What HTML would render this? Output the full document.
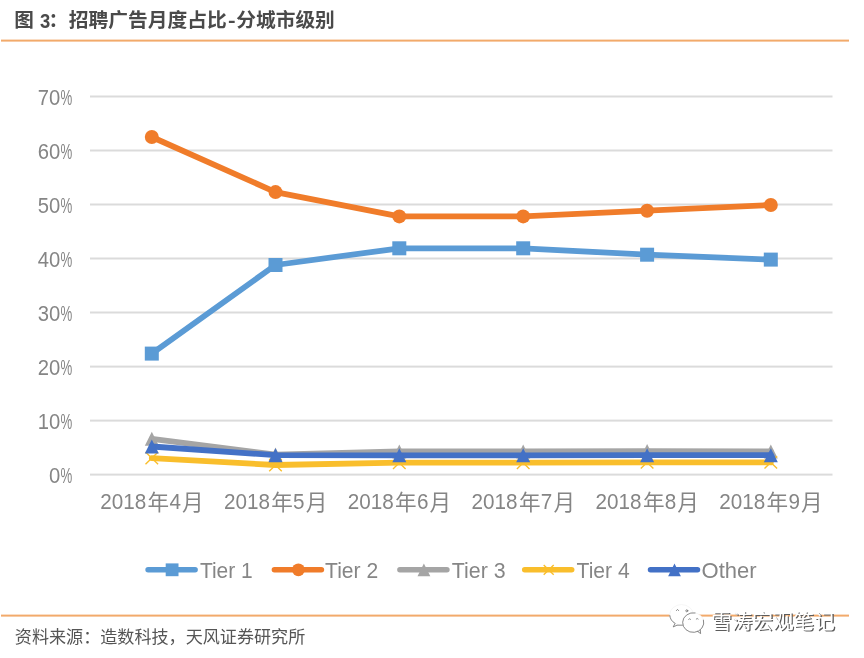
<!DOCTYPE html>
<html lang="zh"><head><meta charset="utf-8"><title>图 3：招聘广告月度占比-分城市级别</title>
<style>html,body{margin:0;padding:0;background:#fff}body{width:864px;height:658px;overflow:hidden;font-family:"Liberation Sans",sans-serif}svg{display:block;will-change:transform}text{font-family:"Liberation Sans","Noto Sans CJK SC",sans-serif}</style>
</head><body>
<svg width="864" height="658" viewBox="0 0 864 658">
<rect width="864" height="658" fill="#fff"/>
<g aria-label="图 3：招聘广告月度占比-分城市级别">
<text x="14.2" y="27.2" font-size="19.6" font-weight="bold" fill="#4a4a4a">图</text>
<text font-size="20.5" font-weight="bold" fill="#4a4a4a" transform="translate(39.9 27.8) scale(.9 1)">3</text>
<text x="48.5" y="27.2" font-size="19.6" font-weight="bold" fill="#4a4a4a">：</text>
<text x="68.8" y="27.2" font-size="19.6" font-weight="bold" fill="#4a4a4a" textLength="158" lengthAdjust="spacingAndGlyphs">招聘广告月度占比</text>
<text font-size="19" font-weight="bold" fill="#4a4a4a" transform="translate(228 27.2) scale(1.2 1)">-</text>
<text x="236.3" y="27.2" font-size="19.6" font-weight="bold" fill="#4a4a4a" textLength="98.5" lengthAdjust="spacingAndGlyphs">分城市级别</text>
</g>
<rect x="1" y="39.6" width="848" height="2" fill="#f2aa6b"/>
<rect x="1" y="614.6" width="848" height="2" fill="#f2aa6b"/>
<rect x="90.0" y="473.6" width="742.5" height="2" fill="#dbdbdb"/>
<rect x="90.0" y="419.6" width="742.5" height="2" fill="#dbdbdb"/>
<rect x="90.0" y="365.6" width="742.5" height="2" fill="#dbdbdb"/>
<rect x="90.0" y="311.5" width="742.5" height="2" fill="#dbdbdb"/>
<rect x="90.0" y="257.5" width="742.5" height="2" fill="#dbdbdb"/>
<rect x="90.0" y="203.5" width="742.5" height="2" fill="#dbdbdb"/>
<rect x="90.0" y="149.5" width="742.5" height="2" fill="#dbdbdb"/>
<rect x="90.0" y="95.5" width="742.5" height="2" fill="#dbdbdb"/>
<text x="60.2" y="482.9" font-size="22" text-anchor="end" fill="#858585" transform="translate(60.2 0) scale(.92 1) translate(-60.2 0)">0</text>
<text font-size="22" fill="#858585" transform="translate(60.4 482.9) scale(.6 1)">%</text>
<text x="60.2" y="428.9" font-size="22" text-anchor="end" fill="#858585" transform="translate(60.2 0) scale(.92 1) translate(-60.2 0)">10</text>
<text font-size="22" fill="#858585" transform="translate(60.4 428.9) scale(.6 1)">%</text>
<text x="60.2" y="374.9" font-size="22" text-anchor="end" fill="#858585" transform="translate(60.2 0) scale(.92 1) translate(-60.2 0)">20</text>
<text font-size="22" fill="#858585" transform="translate(60.4 374.9) scale(.6 1)">%</text>
<text x="60.2" y="320.8" font-size="22" text-anchor="end" fill="#858585" transform="translate(60.2 0) scale(.92 1) translate(-60.2 0)">30</text>
<text font-size="22" fill="#858585" transform="translate(60.4 320.8) scale(.6 1)">%</text>
<text x="60.2" y="266.8" font-size="22" text-anchor="end" fill="#858585" transform="translate(60.2 0) scale(.92 1) translate(-60.2 0)">40</text>
<text font-size="22" fill="#858585" transform="translate(60.4 266.8) scale(.6 1)">%</text>
<text x="60.2" y="212.8" font-size="22" text-anchor="end" fill="#858585" transform="translate(60.2 0) scale(.92 1) translate(-60.2 0)">50</text>
<text font-size="22" fill="#858585" transform="translate(60.4 212.8) scale(.6 1)">%</text>
<text x="60.2" y="158.8" font-size="22" text-anchor="end" fill="#858585" transform="translate(60.2 0) scale(.92 1) translate(-60.2 0)">60</text>
<text font-size="22" fill="#858585" transform="translate(60.4 158.8) scale(.6 1)">%</text>
<text x="60.2" y="104.8" font-size="22" text-anchor="end" fill="#858585" transform="translate(60.2 0) scale(.92 1) translate(-60.2 0)">70</text>
<text font-size="22" fill="#858585" transform="translate(60.4 104.8) scale(.6 1)">%</text>
<polyline points="151.8,353.6 275.5,265.0 399.3,248.3 523.2,248.3 647.1,254.7 770.8,259.6" fill="none" stroke="#5b9bd5" stroke-width="5.8" stroke-linejoin="round" stroke-linecap="round"/>
<rect x="144.8" y="346.6" width="14.0" height="14.0" fill="#5b9bd5"/>
<rect x="268.5" y="258.0" width="14.0" height="14.0" fill="#5b9bd5"/>
<rect x="392.3" y="241.3" width="14.0" height="14.0" fill="#5b9bd5"/>
<rect x="516.2" y="241.3" width="14.0" height="14.0" fill="#5b9bd5"/>
<rect x="640.1" y="247.7" width="14.0" height="14.0" fill="#5b9bd5"/>
<rect x="763.8" y="252.6" width="14.0" height="14.0" fill="#5b9bd5"/>
<polyline points="151.8,137.0 275.5,192.1 399.3,216.4 523.2,216.4 647.1,210.7 770.8,205.0" fill="none" stroke="#f07c2a" stroke-width="5.8" stroke-linejoin="round" stroke-linecap="round"/>
<circle cx="151.8" cy="137.0" r="7.0" fill="#f07c2a"/>
<circle cx="275.5" cy="192.1" r="7.0" fill="#f07c2a"/>
<circle cx="399.3" cy="216.4" r="7.0" fill="#f07c2a"/>
<circle cx="523.2" cy="216.4" r="7.0" fill="#f07c2a"/>
<circle cx="647.1" cy="210.7" r="7.0" fill="#f07c2a"/>
<circle cx="770.8" cy="205.0" r="7.0" fill="#f07c2a"/>
<polyline points="151.8,438.8 275.5,454.6 399.3,451.4 523.2,451.4 647.1,451.1 770.8,451.4" fill="none" stroke="#a5a5a5" stroke-width="5.8" stroke-linejoin="round" stroke-linecap="round"/>
<path d="M151.8 431.8L158.8 445.8H144.8Z" fill="#a5a5a5"/>
<path d="M275.5 447.6L282.5 461.6H268.5Z" fill="#a5a5a5"/>
<path d="M399.3 444.4L406.3 458.4H392.3Z" fill="#a5a5a5"/>
<path d="M523.2 444.4L530.2 458.4H516.2Z" fill="#a5a5a5"/>
<path d="M647.1 444.1L654.1 458.1H640.1Z" fill="#a5a5a5"/>
<path d="M770.8 444.4L777.8 458.4H763.8Z" fill="#a5a5a5"/>
<polyline points="151.8,458.1 275.5,465.0 399.3,462.7 523.2,462.7 647.1,462.4 770.8,462.4" fill="none" stroke="#f9be2c" stroke-width="5.8" stroke-linejoin="round" stroke-linecap="round"/>
<path d="M145.5 452.0L158.1 464.3M158.1 452.0L145.5 464.3" stroke="#f9be2c" stroke-width="1.4" fill="none"/>
<path d="M269.2 458.9L281.8 471.2M281.8 458.9L269.2 471.2" stroke="#f9be2c" stroke-width="1.4" fill="none"/>
<path d="M393.0 456.6L405.6 468.9M405.6 456.6L393.0 468.9" stroke="#f9be2c" stroke-width="1.4" fill="none"/>
<path d="M516.9 456.6L529.5 468.9M529.5 456.6L516.9 468.9" stroke="#f9be2c" stroke-width="1.4" fill="none"/>
<path d="M640.8 456.3L653.4 468.6M653.4 456.3L640.8 468.6" stroke="#f9be2c" stroke-width="1.4" fill="none"/>
<path d="M764.5 456.3L777.1 468.6M777.1 456.3L764.5 468.6" stroke="#f9be2c" stroke-width="1.4" fill="none"/>
<polyline points="151.8,446.5 275.5,455.2 399.3,455.3 523.2,455.3 647.1,455.2 770.8,455.2" fill="none" stroke="#4371c6" stroke-width="5.8" stroke-linejoin="round" stroke-linecap="round"/>
<path d="M151.8 439.5L158.8 453.5H144.8Z" fill="#4371c6"/>
<path d="M275.5 448.2L282.5 462.2H268.5Z" fill="#4371c6"/>
<path d="M399.3 448.3L406.3 462.3H392.3Z" fill="#4371c6"/>
<path d="M523.2 448.3L530.2 462.3H516.2Z" fill="#4371c6"/>
<path d="M647.1 448.2L654.1 462.2H640.1Z" fill="#4371c6"/>
<path d="M770.8 448.2L777.8 462.2H763.8Z" fill="#4371c6"/>
<g aria-label="2018年4月">
<text font-size="22" fill="#858585" transform="translate(100.2 509.0) scale(.94 1)">2018</text>
<text x="147.6" y="509.8" font-size="21.6" fill="#858585">年</text>
<text font-size="22" fill="#858585" transform="translate(169.4 509.0) scale(.94 1)">4</text>
<text x="182.0" y="509.8" font-size="21.6" fill="#858585">月</text>
</g>
<g aria-label="2018年5月">
<text font-size="22" fill="#858585" transform="translate(223.9 509.0) scale(.94 1)">2018</text>
<text x="271.3" y="509.8" font-size="21.6" fill="#858585">年</text>
<text font-size="22" fill="#858585" transform="translate(293.1 509.0) scale(.94 1)">5</text>
<text x="305.7" y="509.8" font-size="21.6" fill="#858585">月</text>
</g>
<g aria-label="2018年6月">
<text font-size="22" fill="#858585" transform="translate(347.7 509.0) scale(.94 1)">2018</text>
<text x="395.1" y="509.8" font-size="21.6" fill="#858585">年</text>
<text font-size="22" fill="#858585" transform="translate(416.9 509.0) scale(.94 1)">6</text>
<text x="429.5" y="509.8" font-size="21.6" fill="#858585">月</text>
</g>
<g aria-label="2018年7月">
<text font-size="22" fill="#858585" transform="translate(471.6 509.0) scale(.94 1)">2018</text>
<text x="519.0" y="509.8" font-size="21.6" fill="#858585">年</text>
<text font-size="22" fill="#858585" transform="translate(540.8 509.0) scale(.94 1)">7</text>
<text x="553.4" y="509.8" font-size="21.6" fill="#858585">月</text>
</g>
<g aria-label="2018年8月">
<text font-size="22" fill="#858585" transform="translate(595.5 509.0) scale(.94 1)">2018</text>
<text x="642.9" y="509.8" font-size="21.6" fill="#858585">年</text>
<text font-size="22" fill="#858585" transform="translate(664.7 509.0) scale(.94 1)">8</text>
<text x="677.3" y="509.8" font-size="21.6" fill="#858585">月</text>
</g>
<g aria-label="2018年9月">
<text font-size="22" fill="#858585" transform="translate(719.2 509.0) scale(.94 1)">2018</text>
<text x="766.6" y="509.8" font-size="21.6" fill="#858585">年</text>
<text font-size="22" fill="#858585" transform="translate(788.4 509.0) scale(.94 1)">9</text>
<text x="801.0" y="509.8" font-size="21.6" fill="#858585">月</text>
</g>
<line x1="148.1" y1="569.8" x2="195.1" y2="569.8" stroke="#5b9bd5" stroke-width="5.5" stroke-linecap="round"/>
<rect x="165.7" y="563.4" width="12.8" height="12.8" fill="#5b9bd5"/>
<text x="199.9" y="577.9" font-size="22.3" fill="#868686" textLength="52.8" lengthAdjust="spacingAndGlyphs">Tier 1</text>
<line x1="274.4" y1="569.8" x2="321.4" y2="569.8" stroke="#f07c2a" stroke-width="5.5" stroke-linecap="round"/>
<circle cx="298.4" cy="569.8" r="6.4" fill="#f07c2a"/>
<text x="325.1" y="577.9" font-size="22.3" fill="#868686" textLength="53.1" lengthAdjust="spacingAndGlyphs">Tier 2</text>
<line x1="399.9" y1="569.8" x2="446.9" y2="569.8" stroke="#a5a5a5" stroke-width="5.5" stroke-linecap="round"/>
<path d="M423.9 563.4L430.3 576.2H417.5Z" fill="#a5a5a5"/>
<text x="451.8" y="577.9" font-size="22.3" fill="#868686" textLength="53.8" lengthAdjust="spacingAndGlyphs">Tier 3</text>
<line x1="524.7" y1="569.8" x2="571.7" y2="569.8" stroke="#f9be2c" stroke-width="5.5" stroke-linecap="round"/>
<path d="M543.7 564.9L553.7 574.7M553.7 564.9L543.7 574.7" stroke="#f9be2c" stroke-width="1.4" fill="none"/>
<text x="576.6" y="577.9" font-size="22.3" fill="#868686" textLength="53.1" lengthAdjust="spacingAndGlyphs">Tier 4</text>
<line x1="650.5" y1="569.8" x2="697.5" y2="569.8" stroke="#4371c6" stroke-width="5.5" stroke-linecap="round"/>
<path d="M674.5 563.4L680.9 576.2H668.1Z" fill="#4371c6"/>
<text x="701.6" y="577.9" font-size="22.3" fill="#868686" textLength="55.0" lengthAdjust="spacingAndGlyphs">Other</text>
<g aria-label="资料来源：造数科技，天风证券研究所"><text x="14.8" y="642.5" font-size="17.1" fill="#555555" textLength="290.5" lengthAdjust="spacingAndGlyphs">资料来源：造数科技，天风证券研究所</text></g>
<g aria-label="雪涛宏观笔记">
<g fill="#fff" stroke="#f0f0f0" stroke-width="0.6">
<path d="M674.6 622.6L673 627.1L678.4 624.6Z"/><ellipse cx="681.5" cy="614.8" rx="11.8" ry="10.2"/>
<path d="M698.2 630.8L700.8 633.8L700.2 629.2Z"/><ellipse cx="693.3" cy="622.6" rx="10.6" ry="9.8"/>
</g>
<g fill="none" stroke="#6e6e6e" stroke-width="0.8" stroke-linecap="round" stroke-linejoin="round">
<path d="M669.8 615.6A11.8 10.2 0 0 0 675.2 623.4L673.2 626.9L677 625.2H682.4"/>
<path d="M695.1 612.9A10.6 9.8 0 1 0 703.5 620.1"/>
<path d="M697.6 631.4L700.6 633.6L700.3 630"/>
<path d="M676.4 610.6L677.5 609.4L678.6 610.6"/><circle cx="686.8" cy="610.8" r="1"/>
<path d="M688.6 619.3Q689.6 618 690.6 619.3"/><path d="M696.2 619Q697.2 617.7 698.2 619"/>
</g>
<text x="711.2" y="628.8" font-size="20.8" fill="#5c5c5c" textLength="123.5" lengthAdjust="spacingAndGlyphs" transform="translate(1.3 1.3)">雪涛宏观笔记</text>
<text x="711.2" y="628.8" font-size="20.8" fill="#ffffff" textLength="123.5" lengthAdjust="spacingAndGlyphs">雪涛宏观笔记</text>
</g>
</svg>
</body></html>
